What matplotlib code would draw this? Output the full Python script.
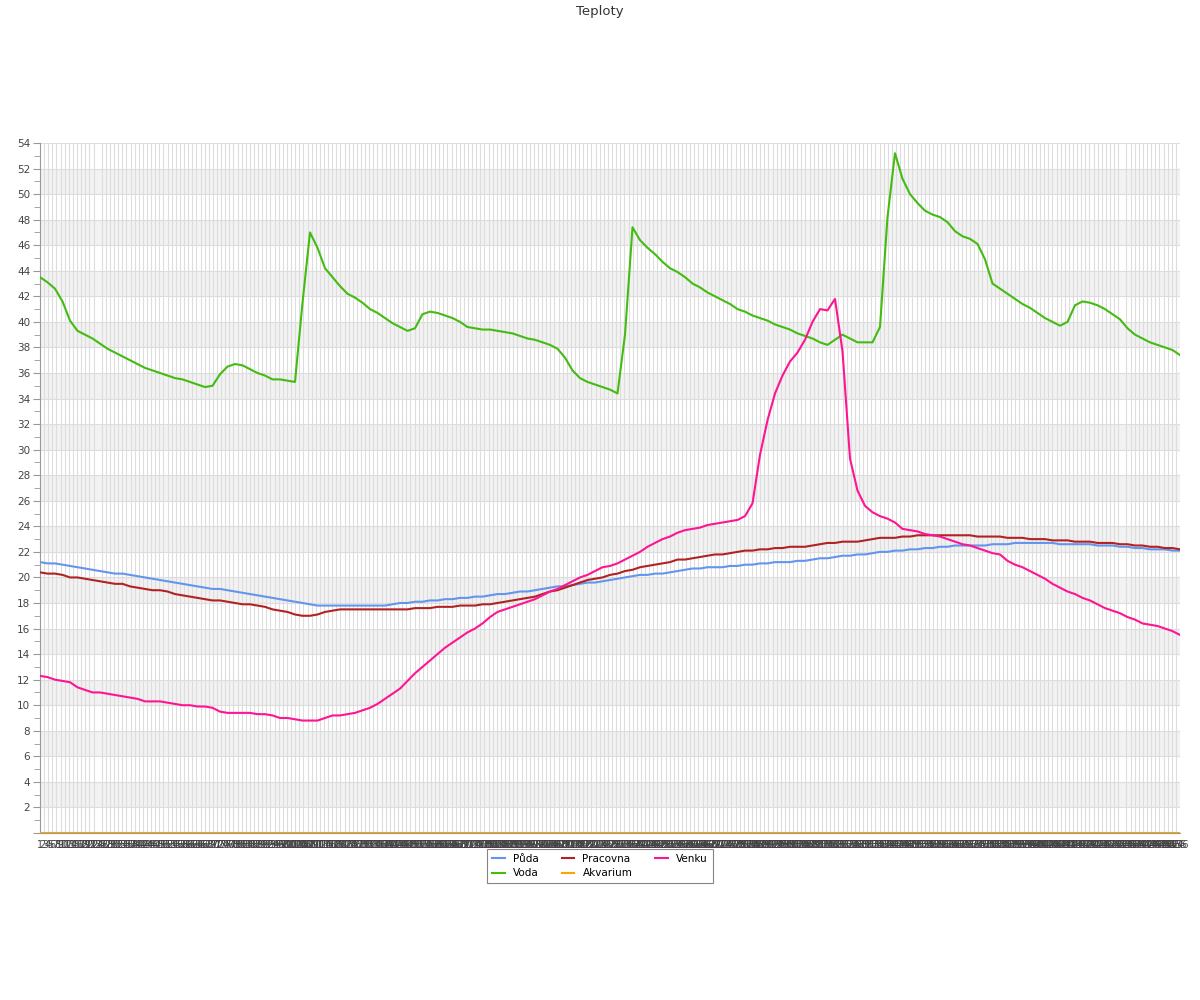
import numpy as np
import matplotlib
matplotlib.use("Agg")
import matplotlib.pyplot as plt

# category labels on the x axis (one per measurement)
labels = [str(i) for i in range(1, 457)]

# sampled readings, evenly spread over the categories
puda = [21.2, 21.1, 21.1, 21.0, 20.9, 20.8, 20.7, 20.6, 20.5, 20.4,
        20.3, 20.3, 20.2, 20.1, 20.0, 19.9, 19.8, 19.7, 19.6, 19.5,
        19.4, 19.3, 19.2, 19.1, 19.1, 19.0, 18.9, 18.8, 18.7, 18.6,
        18.5, 18.4, 18.3, 18.2, 18.1, 18.0, 17.9, 17.8, 17.8, 17.8,
        17.8, 17.8, 17.8, 17.8, 17.8, 17.8, 17.8, 17.9, 18.0, 18.0,
        18.1, 18.1, 18.2, 18.2, 18.3, 18.3, 18.4, 18.4, 18.5, 18.5,
        18.6, 18.7, 18.7, 18.8, 18.9, 18.9, 19.0, 19.1, 19.2, 19.3,
        19.3, 19.4, 19.5, 19.6, 19.6, 19.7, 19.8, 19.9, 20.0, 20.1,
        20.2, 20.2, 20.3, 20.3, 20.4, 20.5, 20.6, 20.7, 20.7, 20.8,
        20.8, 20.8, 20.9, 20.9, 21.0, 21.0, 21.1, 21.1, 21.2, 21.2,
        21.2, 21.3, 21.3, 21.4, 21.5, 21.5, 21.6, 21.7, 21.7, 21.8,
        21.8, 21.9, 22.0, 22.0, 22.1, 22.1, 22.2, 22.2, 22.3, 22.3,
        22.4, 22.4, 22.5, 22.5, 22.5, 22.5, 22.5, 22.6, 22.6, 22.6,
        22.7, 22.7, 22.7, 22.7, 22.7, 22.7, 22.6, 22.6, 22.6, 22.6,
        22.6, 22.5, 22.5, 22.5, 22.4, 22.4, 22.3, 22.3, 22.2, 22.2,
        22.2, 22.1, 22.1]

voda = [43.5, 43.1, 42.6, 41.6, 40.1, 39.3, 39.0, 38.7, 38.3, 37.9,
        37.6, 37.3, 37.0, 36.7, 36.4, 36.2, 36.0, 35.8, 35.6, 35.5,
        35.3, 35.1, 34.9, 35.0, 35.9, 36.5, 36.7, 36.6, 36.3, 36.0,
        35.8, 35.5, 35.5, 35.4, 35.3, 41.5, 47.0, 45.8, 44.2, 43.5,
        42.8, 42.2, 41.9, 41.5, 41.0, 40.7, 40.3, 39.9, 39.6, 39.3,
        39.5, 40.6, 40.8, 40.7, 40.5, 40.3, 40.0, 39.6, 39.5, 39.4,
        39.4, 39.3, 39.2, 39.1, 38.9, 38.7, 38.6, 38.4, 38.2, 37.9,
        37.2, 36.2, 35.6, 35.3, 35.1, 34.9, 34.7, 34.4, 39.0, 47.4,
        46.4, 45.8, 45.3, 44.7, 44.2, 43.9, 43.5, 43.0, 42.7, 42.3,
        42.0, 41.7, 41.4, 41.0, 40.8, 40.5, 40.3, 40.1, 39.8, 39.6,
        39.4, 39.1, 38.9, 38.7, 38.4, 38.2, 38.6, 39.0, 38.7, 38.4,
        38.4, 38.4, 39.6, 48.2, 53.2, 51.2, 50.0, 49.3, 48.7, 48.4,
        48.2, 47.8, 47.1, 46.7, 46.5, 46.1, 44.9, 43.0, 42.6, 42.2,
        41.8, 41.4, 41.1, 40.7, 40.3, 40.0, 39.7, 40.0, 41.3, 41.6,
        41.5, 41.3, 41.0, 40.6, 40.2, 39.5, 39.0, 38.7, 38.4, 38.2,
        38.0, 37.8, 37.4]

pracovna = [20.4, 20.3, 20.3, 20.2, 20.0, 20.0, 19.9, 19.8, 19.7, 19.6,
            19.5, 19.5, 19.3, 19.2, 19.1, 19.0, 19.0, 18.9, 18.7, 18.6,
            18.5, 18.4, 18.3, 18.2, 18.2, 18.1, 18.0, 17.9, 17.9, 17.8,
            17.7, 17.5, 17.4, 17.3, 17.1, 17.0, 17.0, 17.1, 17.3, 17.4,
            17.5, 17.5, 17.5, 17.5, 17.5, 17.5, 17.5, 17.5, 17.5, 17.5,
            17.6, 17.6, 17.6, 17.7, 17.7, 17.7, 17.8, 17.8, 17.8, 17.9,
            17.9, 18.0, 18.1, 18.2, 18.3, 18.4, 18.5, 18.7, 18.9, 19.0,
            19.2, 19.4, 19.6, 19.8, 19.9, 20.0, 20.2, 20.3, 20.5, 20.6,
            20.8, 20.9, 21.0, 21.1, 21.2, 21.4, 21.4, 21.5, 21.6, 21.7,
            21.8, 21.8, 21.9, 22.0, 22.1, 22.1, 22.2, 22.2, 22.3, 22.3,
            22.4, 22.4, 22.4, 22.5, 22.6, 22.7, 22.7, 22.8, 22.8, 22.8,
            22.9, 23.0, 23.1, 23.1, 23.1, 23.2, 23.2, 23.3, 23.3, 23.3,
            23.3, 23.3, 23.3, 23.3, 23.3, 23.2, 23.2, 23.2, 23.2, 23.1,
            23.1, 23.1, 23.0, 23.0, 23.0, 22.9, 22.9, 22.9, 22.8, 22.8,
            22.8, 22.7, 22.7, 22.7, 22.6, 22.6, 22.5, 22.5, 22.4, 22.4,
            22.3, 22.3, 22.2]

akvarium = [0.0] * 153

venku = [12.3, 12.2, 12.0, 11.9, 11.8, 11.4, 11.2, 11.0, 11.0, 10.9,
         10.8, 10.7, 10.6, 10.5, 10.3, 10.3, 10.3, 10.2, 10.1, 10.0,
         10.0, 9.9, 9.9, 9.8, 9.5, 9.4, 9.4, 9.4, 9.4, 9.3,
         9.3, 9.2, 9.0, 9.0, 8.9, 8.8, 8.8, 8.8, 9.0, 9.2,
         9.2, 9.3, 9.4, 9.6, 9.8, 10.1, 10.5, 10.9, 11.3, 11.9,
         12.5, 13.0, 13.5, 14.0, 14.5, 14.9, 15.3, 15.7, 16.0, 16.4,
         16.9, 17.3, 17.5, 17.7, 17.9, 18.1, 18.3, 18.6, 18.9, 19.1,
         19.4, 19.7, 20.0, 20.2, 20.5, 20.8, 20.9, 21.1, 21.4, 21.7,
         22.0, 22.4, 22.7, 23.0, 23.2, 23.5, 23.7, 23.8, 23.9, 24.1,
         24.2, 24.3, 24.4, 24.5, 24.8, 25.8, 29.6, 32.3, 34.4, 35.8,
         36.9, 37.6, 38.6, 40.0, 41.0, 40.9, 41.8, 37.7, 29.3, 26.8,
         25.6, 25.1, 24.8, 24.6, 24.3, 23.8, 23.7, 23.6, 23.4, 23.3,
         23.2, 23.0, 22.8, 22.6, 22.5, 22.3, 22.1, 21.9, 21.8, 21.3,
         21.0, 20.8, 20.5, 20.2, 19.9, 19.5, 19.2, 18.9, 18.7, 18.4,
         18.2, 17.9, 17.6, 17.4, 17.2, 16.9, 16.7, 16.4, 16.3, 16.2,
         16.0, 15.8, 15.5]

series = [
    ("Půda", puda, "#6495ed"),
    ("Voda", voda, "#44bb11"),
    ("Pracovna", pracovna, "#b22222"),
    ("Akvarium", akvarium, "#ffa500"),
    ("Venku", venku, "#ff1493"),
]

fig = plt.figure(figsize=(12, 10), dpi=100)
ax = fig.add_axes([40 / 1200, 0.167, 1140 / 1200, 0.69])

n = len(labels)
x = np.linspace(0, n - 1, len(puda))

# alternating bands
for lo in range(2, 54, 4):
    ax.axhspan(lo, lo + 2, color="#f2f2f2", zorder=0, lw=0)

handles = []
for name, vals, col in series:
    h, = ax.plot(x, vals, color=col, lw=1.5, label=name, zorder=3)
    handles.append(h)

ax.set_xlim(0, n - 1)
ax.set_ylim(0, 54)

ax.set_yticks(range(0, 55, 2))
ax.set_yticklabels([""] + [str(v) for v in range(2, 55, 2)])
ax.set_yticks(range(1, 54, 2), minor=True)
ax.tick_params(axis="y", which="major", length=5, color="#999999",
               labelsize=7.5, labelcolor="#444444", pad=2)
ax.tick_params(axis="y", which="minor", length=4, color="#999999")

ax.set_xticks(range(n))
ax.set_xticklabels(labels, fontsize=7, color="#444444")
ax.set_xticks(np.linspace(0, n - 1, 278), minor=True)
ax.tick_params(axis="x", which="both", length=0, pad=5)

ax.grid(axis="y", which="major", color="#dddddd", lw=0.8, zorder=1)
ax.grid(axis="x", which="minor", color="#dddddd", lw=0.8, zorder=1)
ax.set_axisbelow(True)

for s in ["top", "right"]:
    ax.spines[s].set_visible(False)
for s in ["left", "bottom"]:
    ax.spines[s].set_color("#999999")

fig.text(0.5, 0.989, "Teploty", ha="center", va="center", fontsize=9.5, color="#333333")

leg = fig.legend(handles=handles, loc="upper center", bbox_to_anchor=(0.5, 0.151),
                 ncol=3, fontsize=7.5, frameon=True, fancybox=False, borderaxespad=0,
                 handlelength=1.2, columnspacing=2.2, borderpad=0.45,
                 labelspacing=0.45, handletextpad=0.8)
leg.get_frame().set_edgecolor("#666666")
leg.get_frame().set_linewidth(0.8)

fig.savefig("out.png", dpi=100)
